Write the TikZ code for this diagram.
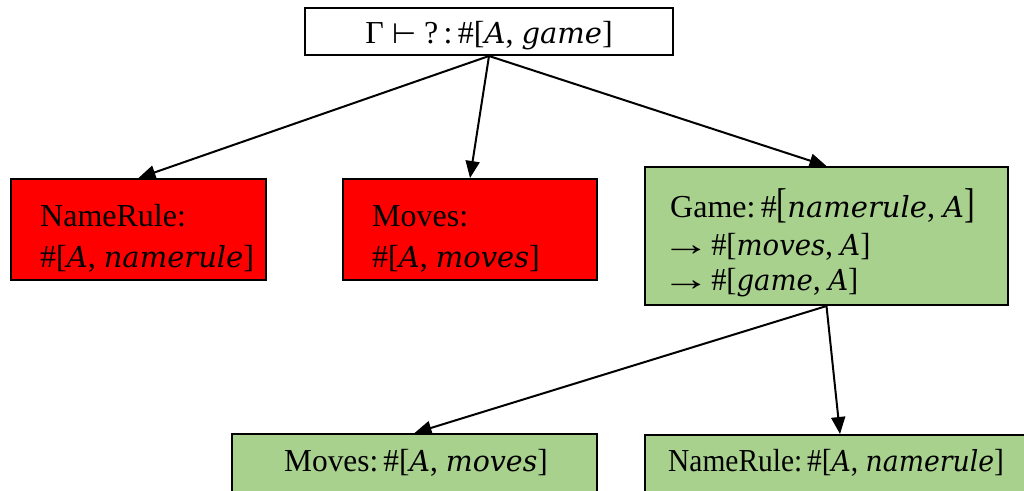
\documentclass[tikz,border=0pt]{standalone}
\usepackage{fontspec}
\usepackage{graphicx}
\setmainfont{Liberation Serif}
\newfontfamily\varfont{DejaVu Serif}
\newfontfamily\symfont{DejaVu Sans}
\usetikzlibrary{arrows.meta}
\definecolor{boxred}{HTML}{FF0000}
\definecolor{boxgreen}{HTML}{A9D18E}
% italic identifiers, symbols and the #[ ] type former
\newcommand\vn[1]{{\varfont\itshape\fontsize{29}{34}\selectfont #1}}
\newcommand\sym[1]{{\symfont\fontsize{28}{34}\selectfont #1}}
\newcommand\ty[1]{\#[#1]}
\newcommand\tybig[1]{\#\scalebox{1}[1.3]{[}#1\scalebox{1}[1.3]{]}}
\newcommand\sx[2]{\scalebox{#1}[1]{#2}}
\newcommand\longto{\kern-9pt\scalebox{1.6}[1.05]{→}\kern-7pt}
\begin{document}
\begin{tikzpicture}[x=1pt,y=-1pt,
  every node/.style={font=\fontsize{32}{38}\selectfont},
  box/.style={draw=black, line width=2pt, rectangle, inner sep=0pt},
  redbox/.style={box, fill=boxred},
  greenbox/.style={box, fill=boxgreen},
  txt/.style={inner sep=0pt, anchor=base west},
  ctxt/.style={inner sep=0pt, anchor=base},
  arr/.style={line width=2pt, -{Triangle[length=17pt,width=14pt]}}
]
\useasboundingbox (0,0) rectangle (1024,490);
\clip (0,0) rectangle (1024,490);

% goal
\node[box, fill=white, minimum width=368pt, minimum height=47pt] (goal) at (489,31.5) {};
\node[ctxt] (goalt) at (489,43) {Γ \sym{⊢} ?\,:\,\ty{\vn{A}, \vn{game}}};

% first level
\node[redbox, minimum width=255pt, minimum height=101pt] (nr) at (138.5,229.5) {};
\node[txt] (nr1) at (40,226) {NameRule:};
\node[txt] (nr2) at (40,267) {\ty{\vn{A},\ \vn{namerule}}};

\node[redbox, minimum width=254pt, minimum height=101pt] (mv) at (470,229.5) {};
\node[txt] (mv1) at (372,226) {Moves:};
\node[txt] (mv2) at (372,267) {\ty{\vn{A},\ \vn{moves}}};

\node[greenbox, minimum width=363pt, minimum height=138pt] (gm) at (826.5,236) {};
\node[txt] (gm1) at (670,217) {Game:\,\tybig{\vn{namerule},\ \vn{A}}};
\node[txt] (gm2) at (670,255) {\sx{0.95}{\longto\ \ty{\vn{moves}, \vn{A}}}};
\node[txt] (gm3) at (670,290) {\sx{0.95}{\longto\ \ty{\vn{game}, \vn{A}}}};

% second level
\node[greenbox, minimum width=365pt, minimum height=100pt, anchor=north] (bmv) at (414.5,433) {};
\node[ctxt] (bmvt) at (416,471) {\sx{0.98}{Moves:\,\ty{\vn{A},\ \vn{moves}}}};

\node[greenbox, minimum width=390pt, minimum height=100pt, anchor=north] (bnr) at (840,434) {};
\node[txt] (bnrt) at (668,471) {\sx{0.92}{NameRule:\,\ty{\vn{A},\ \vn{namerule}}}};

% connectors
\draw[arr] (goal.south) -- (nr.north);
\draw[arr] (goal.south) -- (mv.north);
\draw[arr] (goal.south) -- (gm.north);
\draw[arr] (gm.south) -- (bmv.north);
\draw[arr] (gm.south) -- (bnr.north);
\end{tikzpicture}
\end{document}
